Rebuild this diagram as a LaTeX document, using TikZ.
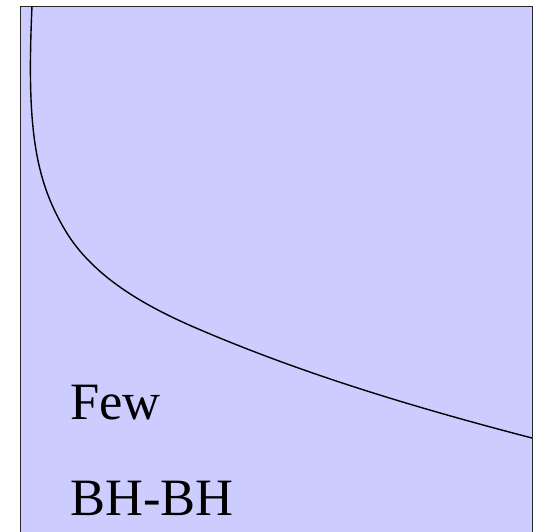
\documentclass[tikz,border=0pt]{standalone}
\usepackage{fontspec}
\setmainfont{Liberation Serif}
\definecolor{panelfill}{HTML}{CCCCFF}
\tikzset{
  panel/.style={fill=panelfill, draw=black!85, line width=1pt},
  curveline/.style={draw=black, line width=1.4pt},
  bigtext/.style={anchor=base west, inner sep=0pt, font=\fontsize{52.5}{60}\selectfont}
}
\begin{document}
\begin{tikzpicture}[x=1pt,y=1pt]
\useasboundingbox (0,0) rectangle (534,-531);
\clip (0,0) rectangle (534,-531);
\draw[panel] (20,-6) rectangle (532,-545);
\draw[curveline] (32,-6) .. controls (26.6,-126) and (34.4,-178.4) .. (65,-230)
  .. controls (93,-277.3) and (146.2,-306.6) .. (196.7,-328.3)
  .. controls (304.7,-374.7) and (418.2,-408.4) .. (532,-438);
\node[bigtext] (few) at (70,-419) {Few};
\node[bigtext] (bhbh) at (70,-515) {BH-BH};
\end{tikzpicture}
\end{document}
